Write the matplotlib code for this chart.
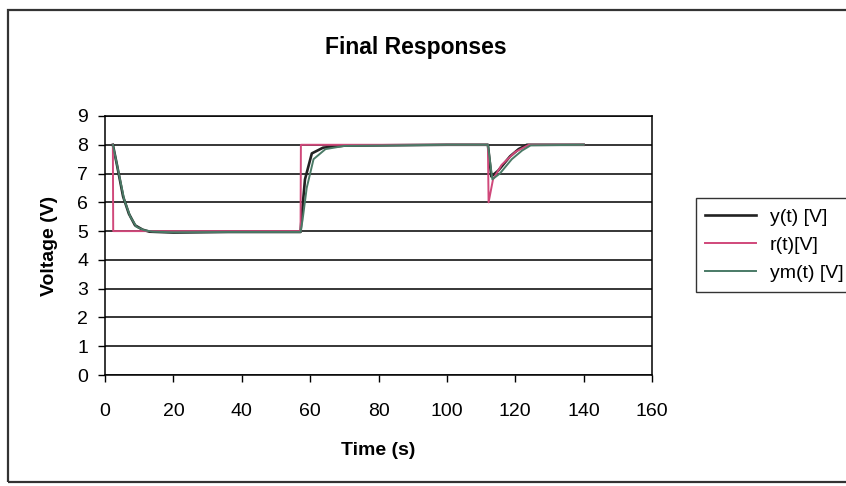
import numpy as np
import matplotlib.pyplot as plt
from matplotlib.patches import Rectangle

plt.rcParams['font.family'] = ['Liberation Sans', 'DejaVu Sans']

# Salida del sistema y(t) [V]
t_y = [2.3, 3.5, 5.3, 7.0, 8.8, 11, 13, 20, 36,
       57.2, 57.6, 58.5, 60.5, 63.8, 70, 100,
       112, 113, 115, 118.5, 121, 123.4, 140]
y_vals = [8.0, 7.3, 6.2, 5.6, 5.2, 5.05, 4.98, 4.95, 4.97,
          4.97, 5.6, 6.8, 7.7, 7.9, 7.97, 8.0,
          8.0, 6.9, 7.1, 7.6, 7.85, 8.0, 8.0]

# Referencia r(t) [V]
t_r = [2.3, 2.4, 57.2, 57.3, 112, 112.2, 113.5, 116, 120, 124, 140]
r_vals = [8.0, 5.0, 5.0, 8.0, 8.0, 6.0, 6.8, 7.3, 7.75, 8.0, 8.0]

# Salida del modelo ym(t) [V]
t_m = [2.3, 3.7, 5.6, 7.4, 9.2, 11.5, 14, 20, 36,
       57.2, 57.8, 59, 61, 64.5, 70, 100,
       112, 113.3, 115.5, 119, 122, 124.5, 140]
ym_vals = [8.0, 7.2, 6.1, 5.5, 5.15, 5.03, 4.98, 4.96, 4.97,
           4.97, 5.4, 6.5, 7.5, 7.85, 7.96, 8.0,
           8.0, 6.8, 7.0, 7.5, 7.8, 7.98, 8.0]

x_ticks = np.arange(0, 161, 20)
y_ticks = np.arange(0, 10, 1)

fig = plt.figure(figsize=(8.46, 4.86), dpi=100)
ax = fig.add_axes([105 / 846, 1 - 375 / 486, 547 / 846, 259 / 486])

ax.plot(t_y, y_vals, color='#222222', lw=1.9, label='y(t) [V]')
ax.plot(t_r, r_vals, color='#d0487a', lw=1.4, label='r(t)[V]')
ax.plot(t_m, ym_vals, color='#4a7a66', lw=1.4, label='ym(t) [V]')

ax.set_xlim(0, 160)
ax.set_ylim(0, 9)
ax.set_xticks(x_ticks)
ax.set_yticks(y_ticks)
ax.yaxis.grid(True, color='black', lw=1.1)
ax.set_axisbelow(True)
for s in ax.spines.values():
    s.set_color('black')
    s.set_linewidth(1.1)
ax.tick_params(direction='out', length=5, width=1, labelsize=14)
ax.tick_params(axis='x', pad=15)
ax.tick_params(axis='y', pad=7)

ax.set_xlabel('Time (s)', fontsize=14, fontweight='bold', labelpad=16)
ax.set_ylabel('Voltage (V)', fontsize=14, fontweight='bold', labelpad=14)
fig.text(416 / 846, 1 - 47 / 486, 'Final Responses',
         ha='center', va='center', fontsize=16.5, fontweight='bold')

leg = ax.legend(loc='center left', bbox_to_anchor=(686 / 846, 1 - 245 / 486),
                bbox_transform=fig.transFigure, fontsize=14, frameon=True,
                fancybox=False, edgecolor='black', handlelength=2.6,
                borderpad=0.5, labelspacing=0.55, handletextpad=0.7)
leg.get_frame().set_linewidth(1.0)

# Marco exterior del gráfico
fig.patches.append(Rectangle((8 / 846, 4 / 486), 1.2, 1 - 14 / 486,
                             transform=fig.transFigure, fill=False,
                             edgecolor='#333333', lw=1.6))

fig.savefig('out.png', dpi=100)
